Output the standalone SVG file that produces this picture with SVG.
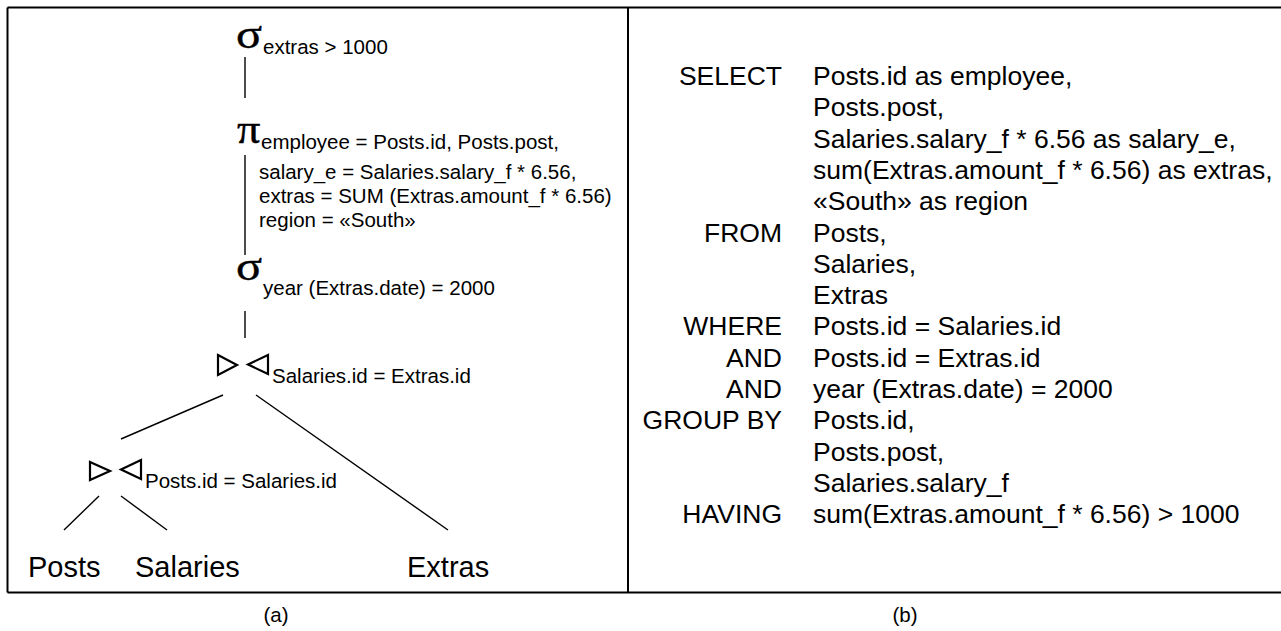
<svg xmlns="http://www.w3.org/2000/svg" width="1281" height="631" viewBox="0 0 1281 631">
  <style>
    .txt { font-family: "Liberation Sans", Arial, Helvetica, sans-serif; fill: #000; }
    .sub { font-size: 20.5px; }
    .leaf { font-size: 29px; }
    .sql { font-size: 26.5px; }
    .cap { font-size: 20.5px; }
    .greek { font-family: "Liberation Serif", "Times New Roman", serif; font-size: 42px; fill: #000; stroke: #000; stroke-width: 0.4; }
    .frame { fill: none; stroke: #000; stroke-width: 2; }
    .edge { stroke: #000; stroke-width: 1.4; fill: none; }
    .tri { fill: #fff; stroke: #000; stroke-width: 2.2; stroke-linejoin: miter; }
  </style>

  <rect width="1281" height="631" fill="#fff"/>

  <!-- outer frame split into the two panels -->
  <g id="frame">
    <line class="frame" x1="7.5" y1="7.5" x2="1281" y2="7.5"/>
    <line class="frame" x1="7.5" y1="592.5" x2="1281" y2="592.5"/>
    <line class="frame" x1="7.5" y1="7.5" x2="7.5" y2="592.5"/>
    <line class="frame" x1="628" y1="7.5" x2="628" y2="592.5"/>
  </g>

  <!-- tree edges -->
  <g id="connectors">
    <line class="edge" x1="245" y1="57" x2="245" y2="98"/>
    <line class="edge" x1="245" y1="155" x2="245" y2="255"/>
    <line class="edge" x1="245" y1="311" x2="245" y2="338"/>
    <line class="edge" x1="223" y1="395" x2="121" y2="439"/>
    <line class="edge" x1="256" y1="395" x2="448" y2="530"/>
    <line class="edge" x1="99" y1="496" x2="64" y2="530"/>
    <line class="edge" x1="121" y1="496" x2="167" y2="530"/>
  </g>

  <!-- selection on the aggregate -->
  <g id="select-extras">
    <text class="greek" transform="translate(236,48) scale(1.15,1)">σ</text>
    <text class="txt sub" x="263" y="54">extras &gt; 1000</text>
  </g>

  <!-- projection -->
  <g id="project">
    <text class="greek" transform="translate(237,143) scale(1.1,1)">π</text>
    <text class="txt sub" x="261" y="149">employee = Posts.id, Posts.post,</text>
    <text class="txt sub" x="259" y="179">salary_e = Salaries.salary_f * 6.56,</text>
    <text class="txt sub" x="259" y="203">extras = SUM (Extras.amount_f * 6.56)</text>
    <text class="txt sub" x="259" y="227">region = «South»</text>
  </g>

  <!-- selection on the year -->
  <g id="select-year">
    <text class="greek" transform="translate(236,280) scale(1.15,1)">σ</text>
    <text class="txt sub" x="263" y="295">year (Extras.date) = 2000</text>
  </g>

  <!-- join of salaries and extras -->
  <g id="join-extras">
    <polygon class="tri" points="218,355 237,365 218,375"/>
    <polygon class="tri" points="268,355 248,364.5 268,374"/>
    <text class="txt sub" x="272" y="383">Salaries.id = Extras.id</text>
  </g>

  <!-- join of posts and salaries -->
  <g id="join-posts">
    <polygon class="tri" points="90,462 110,471 90,480"/>
    <polygon class="tri" points="141,460 121,469.5 141,479"/>
    <text class="txt sub" x="145" y="488">Posts.id = Salaries.id</text>
  </g>

  <!-- base relations -->
  <g id="rel-posts"><text class="txt leaf" x="28" y="577">Posts</text></g>
  <g id="rel-salaries"><text class="txt leaf" x="135" y="577">Salaries</text></g>
  <g id="rel-extras"><text class="txt leaf" x="407" y="577">Extras</text></g>

  <!-- SQL query -->
  <g id="sql-keywords" class="txt sql" text-anchor="end">
    <text x="782" y="85">SELECT</text>
    <text x="782" y="241.5">FROM</text>
    <text x="782" y="335.3">WHERE</text>
    <text x="782" y="366.6">AND</text>
    <text x="782" y="397.9">AND</text>
    <text x="782" y="429.2">GROUP BY</text>
    <text x="782" y="523">HAVING</text>
  </g>
  <g id="sql-clauses" class="txt sql">
    <text x="813" y="85">Posts.id as employee,</text>
    <text x="813" y="116.3">Posts.post,</text>
    <text x="813" y="147.6">Salaries.salary_f * 6.56 as salary_e,</text>
    <text x="813" y="178.9">sum(Extras.amount_f * 6.56) as extras,</text>
    <text x="813" y="210.2">«South» as region</text>
    <text x="813" y="241.5">Posts,</text>
    <text x="813" y="272.7">Salaries,</text>
    <text x="813" y="304">Extras</text>
    <text x="813" y="335.3">Posts.id = Salaries.id</text>
    <text x="813" y="366.6">Posts.id = Extras.id</text>
    <text x="813" y="397.9">year (Extras.date) = 2000</text>
    <text x="813" y="429.2">Posts.id,</text>
    <text x="813" y="460.5">Posts.post,</text>
    <text x="813" y="491.8">Salaries.salary_f</text>
    <text x="813" y="523">sum(Extras.amount_f * 6.56) &gt; 1000</text>
  </g>

  <!-- panel captions -->
  <g id="captions" class="txt cap" text-anchor="middle">
    <text x="276" y="622">(a)</text>
    <text x="905" y="622">(b)</text>
  </g>
</svg>
